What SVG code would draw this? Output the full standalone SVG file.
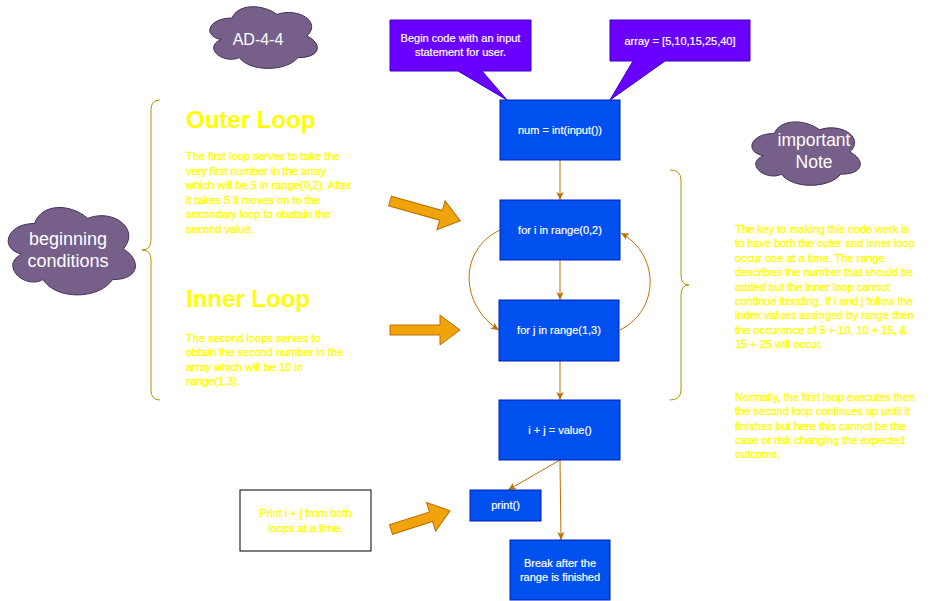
<svg xmlns="http://www.w3.org/2000/svg" xmlns:xlink="http://www.w3.org/1999/xlink" width="941" height="601" viewBox="0 0 941 601">
<style>
text{font-family:"Liberation Sans",Arial,Helvetica,sans-serif}
.box{fill:#0050ef;stroke:#001dbc;stroke-width:1}
.bt{fill:#ffffff;font-size:11px;text-anchor:middle;stroke:#ffffff;stroke-width:0.2}
.call{fill:#6a00ff;stroke:#3700cc;stroke-width:1}
.cloud{fill:#76608a;stroke:#432d57;stroke-width:1;vector-effect:non-scaling-stroke}
.ct{fill:#ffffff;text-anchor:middle}
.yel{fill:#ffff00;font-size:11px;stroke:#ffff00;stroke-width:0.35}
.head{fill:#ffff00;font-size:24px;font-weight:bold}
.brace{fill:none;stroke:#b09500;stroke-width:1}
.blk{fill:#f0a30a;stroke:#bd7000;stroke-width:1}
.con{fill:none;stroke:#bd7000;stroke-width:1;marker-end:url(#ah)}
</style>
<defs>
<path id="cloudp" class="cloud" d="M25,25 C5,25 0,50 16,55 C0,66 18,90 31,80 C40,100 70,100 80,80 C100,80 100,60 87.5,50 C100,30 80,10 62.5,20 C50,5 30,5 25,25 Z"/>
<marker id="ah" viewBox="0 0 10 10" refX="10" refY="5" markerWidth="8" markerHeight="8" markerUnits="userSpaceOnUse" orient="auto">
<path d="M0,0.5 L10,5 L0,9.5 L2.5,5 Z" fill="#bd7000"/>
</marker>
</defs>
<rect width="941" height="601" fill="#ffffff"/>

<g id="connectors">
<path class="con" d="M560,160 V200"/>
<path class="con" d="M560,260 V300"/>
<path class="con" d="M560,361 V400"/>
<path class="con" d="M560,460 L508,490"/>
<path class="con" d="M560,460 L561,540"/>
<path class="con" d="M500,230 C458,250 460,305 499,330"/>
<path class="con" d="M620,330 C660,310 660,255 621,233"/>
</g>

<g id="cloud-ad">
<use xlink:href="#cloudp" href="#cloudp" transform="translate(202,0) scale(1.2,0.72)"/>
<text class="ct" x="258" y="45" font-size="16">AD-4-4</text>
</g>
<g id="cloud-beginning">
<use xlink:href="#cloudp" href="#cloudp" transform="translate(-1,198) scale(1.42,1.02)"/>
<text class="ct" font-size="18"><tspan x="68" y="245">beginning</tspan><tspan x="68" y="267">conditions</tspan></text>
</g>
<g id="cloud-note">
<use xlink:href="#cloudp" href="#cloudp" transform="translate(744,115) scale(1.21,0.74)"/>
<text class="ct" font-size="17.5"><tspan x="814" y="146">important</tspan><tspan x="814" y="168">Note</tspan></text>
</g>

<g id="callout-input">
<path class="call" d="M390,20 H531 V71 H482 L507,100 L458,71 H390 Z"/>
<text class="bt"><tspan x="460.5" y="42">Begin code with an input</tspan><tspan x="460.5" y="56">statement for user.</tspan></text>
</g>
<g id="callout-array">
<path class="call" d="M610,20 H750 V61 H665 L610,100 L633,61 H610 Z"/>
<text class="bt" x="680" y="44.5">array = [5,10,15,25,40]</text>
</g>

<g id="node-num">
<rect class="box" x="500" y="100" width="120" height="60"/>
<text class="bt" x="560" y="134">num = int(input())</text>
</g>
<g id="node-fori">
<rect class="box" x="500" y="200" width="120" height="60"/>
<text class="bt" x="560" y="234">for i in range(0,2)</text>
</g>
<g id="node-forj">
<rect class="box" x="499" y="300" width="120" height="61"/>
<text class="bt" x="559" y="334">for j in range(1,3)</text>
</g>
<g id="node-value">
<rect class="box" x="499" y="400" width="121" height="60"/>
<text class="bt" x="560" y="434">i + j = value()</text>
</g>
<g id="node-print">
<rect class="box" x="470" y="490" width="71" height="31"/>
<text class="bt" x="505.5" y="509">print()</text>
</g>
<g id="node-break">
<rect class="box" x="510" y="540" width="100" height="60"/>
<text class="bt"><tspan x="560" y="566.5">Break after the</tspan><tspan x="560" y="581">range is finished</tspan></text>
</g>

<g id="note-print">
<rect x="240" y="490" width="131" height="61" fill="#ffffff" stroke="#000000" stroke-width="1"/>
<text class="yel" text-anchor="middle"><tspan x="305.5" y="517">Print i + j from both</tspan><tspan x="305.5" y="531.5">loops at a time.</tspan></text>
</g>

<g id="outer-loop-text">
<text class="head" x="186" y="128">Outer Loop</text>
<text class="yel">
<tspan x="186" y="160">The first loop serves to take the</tspan>
<tspan x="186" y="174.5">very first number in the array</tspan>
<tspan x="186" y="189">which will be 5 in range(0,2). After</tspan>
<tspan x="186" y="203.5">it takes 5 it moves on to the</tspan>
<tspan x="186" y="218">secondary loop to obatain the</tspan>
<tspan x="186" y="232.5">second value.</tspan>
</text>
</g>
<g id="inner-loop-text">
<text class="head" x="186" y="307">Inner Loop</text>
<text class="yel">
<tspan x="186" y="341.5">The second loops serves to</tspan>
<tspan x="186" y="356">obtain the second number in the</tspan>
<tspan x="186" y="370.5">array which will be 10 in</tspan>
<tspan x="186" y="385">range(1,3).</tspan>
</text>
</g>
<g id="note-text">
<text class="yel">
<tspan x="735" y="233">The key to making this code work is</tspan>
<tspan x="735" y="247.4">to have both the outer and inner loop</tspan>
<tspan x="735" y="261.8">occur one at a time. The range</tspan>
<tspan x="735" y="276.2">describes the number that should be</tspan>
<tspan x="735" y="290.6">added but the inner loop cannot</tspan>
<tspan x="735" y="305">continue iterating. If i and j follow the</tspan>
<tspan x="735" y="319.4">index values assinged by range then</tspan>
<tspan x="735" y="333.8">the occurence of 5 + 10, 10 + 15, &amp;</tspan>
<tspan x="735" y="348.2">15 + 25 will occur.</tspan>
</text>
<text class="yel">
<tspan x="735" y="400.7">Normally, the first loop executes then</tspan>
<tspan x="735" y="415.1">the second loop continues up until it</tspan>
<tspan x="735" y="429.5">finishes but here this cannot be the</tspan>
<tspan x="735" y="443.9">case or risk changing the expected</tspan>
<tspan x="735" y="458.3">outcome.</tspan>
</text>
</g>

<g id="brace-left">
<path class="brace" d="M160,100 Q151,100 151,110 L151,240 Q151,250 142,250 Q151,250 151,260 L151,390 Q151,400 160,400"/>
</g>
<g id="brace-right">
<path class="brace" d="M670,170 Q681,170 681,180 L681,275 Q681,285 689,285 Q681,285 681,295 L681,390 Q681,400 670,400"/>
</g>

<g id="arrow-outer">
<path class="blk" transform="translate(390,201) rotate(15.7)" d="M0,-5 H53 V-15 L73,0 L53,15 V5 H0 Z"/>
</g>
<g id="arrow-inner">
<path class="blk" transform="translate(390,330)" d="M0,-5 H50 V-15 L70,0 L50,15 V5 H0 Z"/>
</g>
<g id="arrow-print">
<path class="blk" transform="translate(391,529.5) rotate(-17.7)" d="M0,-5 H42 V-15 L62,0 L42,15 V5 H0 Z"/>
</g>
</svg>
